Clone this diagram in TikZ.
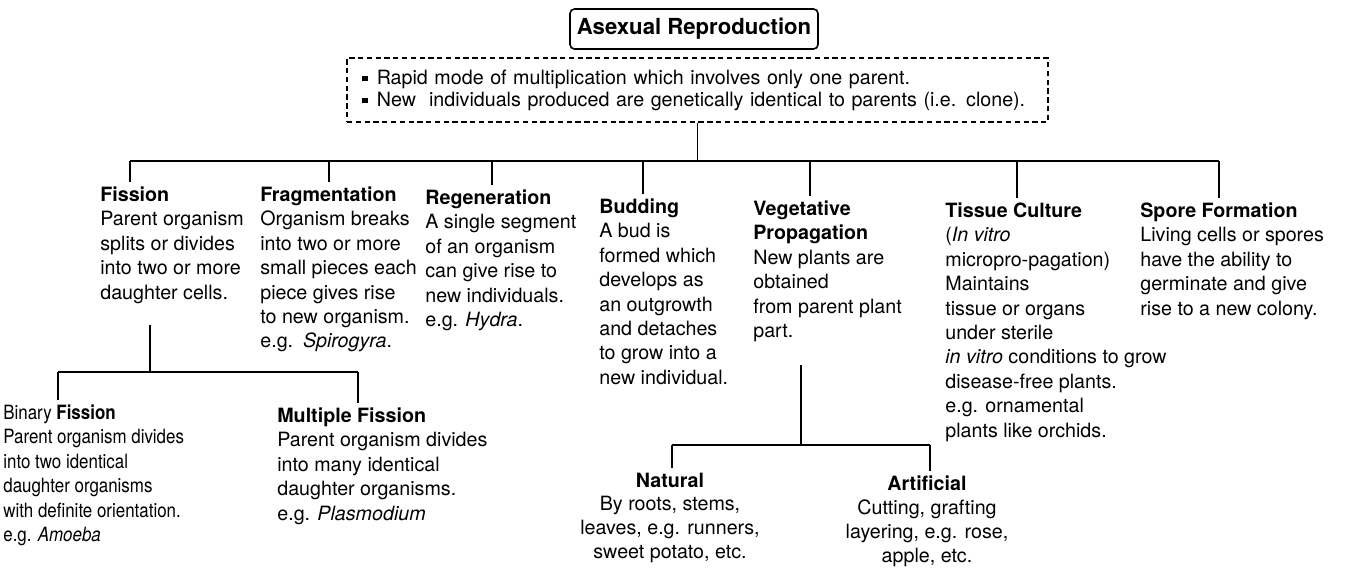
\documentclass[tikz,border=0pt]{standalone}
\usepackage{fontspec}
\setmainfont{TeX Gyre Heros}
\newfontfamily\arnarrow[FakeStretch=0.86]{TeX Gyre Heros}
\usetikzlibrary{positioning,calc}
\tikzset{
  arhead/.style={draw, rounded corners=2.5pt, line width=0.9pt, minimum width=4.96cm,
                 minimum height=0.8cm, inner sep=0pt, font=\fontsize{12.6}{15}\selectfont\bfseries},
  arsum/.style={draw, dash pattern=on 3pt off 2pt, line width=0.7pt, minimum width=14.02cm,
                minimum height=1.28cm, text width=13.42cm, inner xsep=0.3cm, inner ysep=0pt,
                align=left, font=\fontsize{11.2}{12.5}\selectfont},
  arleaf/.style={anchor=north west, align=left, inner xsep=0pt, inner ysep=2.5pt,
                 font=\fontsize{11.2}{13.9}\selectfont},
  arnarrowleaf/.style={arleaf, font=\arnarrow\fontsize{11.2}{13.9}\selectfont},
  arsub/.style={anchor=north, align=center, inner xsep=0pt, inner ysep=2.5pt,
                font=\fontsize{11.2}{13.6}\selectfont},
  arlink/.style={draw=black, line width=0.9pt},
}
\newcommand{\arbullet}{\raisebox{0.25ex}{\rule{0.3em}{0.3em}}\hspace{0.45em}}

\begin{document}
\begin{tikzpicture}[x=0.02cm, y=-0.02cm]
  \useasboundingbox (0,0) rectangle (1349,568);
  \node[arhead] (asexual) at (694,29) {Asexual Reproduction};
  \node[arsum] (sumbox) at (697.5,90) {\arbullet Rapid mode of multiplication which involves only one parent.\\
    \arbullet New~ individuals produced are genetically identical to parents (i.e. clone).};
  \node[arleaf] (fission) at (100,182) {\textbf{Fission}\\Parent organism\\splits or divides\\into two or more\\daughter cells.};
  \node[arleaf] (frag) at (260,182) {\textbf{Fragmentation}\\Organism breaks\\into two or more\\small pieces each\\piece gives rise\\to new organism.\\e.g.\enspace\textit{Spirogyra}.};
  \node[arleaf] (regen) at (425,185) {\textbf{Regeneration}\\A single segment\\of an organism\\can give rise to\\new individuals.\\e.g. \textit{Hydra}.};
  \node[arleaf] (budding) at (599,194) {\textbf{Budding}\\A bud is\\formed which\\develops as\\an outgrowth\\and detaches\\to grow into a\\new individual.};
  \node[arleaf] (veg) at (753,196) {\textbf{Vegetative}\\\textbf{Propagation}\\New plants are\\obtained\\from parent plant\\part.};
  \node[arleaf] (tissue) at (945,198) {\textbf{Tissue Culture}\\(\textit{In vitro}\\micropro-pagation)\\Maintains\\tissue or organs\\under sterile\\\textit{in vitro} conditions to grow\\disease-free plants.\\e.g. ornamental\\plants like orchids.};
  \node[arleaf] (spore) at (1140,198) {\textbf{Spore Formation}\\Living cells or spores\\have the ability to\\germinate and give\\rise to a new colony.};
  \node[arnarrowleaf] (binary) at (3,400) {Binary \textbf{Fission}\\Parent organism divides\\into two identical\\daughter organisms\\with definite orientation.\\e.g. \textit{Amoeba}};
  \node[arleaf] (multiple) at (277,403) {\textbf{Multiple Fission}\\Parent organism divides\\into many identical\\daughter organisms.\\e.g. \textit{Plasmodium}};
  \node[arsub] (natural) at (670,468) {\textbf{Natural}\\By roots, stems,\\leaves, e.g. runners,\\sweet potato, etc.};
  \node[arsub] (artificial) at (927,471) {\textbf{Artificial}\\Cutting, grafting\\layering, e.g. rose,\\apple, etc.};

  \coordinate (barL) at (130,161);
  \coordinate (barR) at (1219,161);
  \draw[arlink] (sumbox.south) -- (sumbox.south |- barL);
  \draw[arlink] (barL) -- (barR);
  \foreach \nd/\xx in {fission/130, frag/329, regen/492, budding/643, veg/810, tissue/1017, spore/1219} {
    \coordinate (tap) at (\xx,161);
    \draw[arlink] (tap) -- (tap |- \nd.north);
  }

  \coordinate (fisStem) at (150,325);
  \coordinate (fisL) at (58,372);
  \coordinate (fisR) at (358,372);
  \draw[arlink] (fisStem) -- (fisStem |- fisL);
  \draw[arlink] (fisL) -- (fisR);
  \draw[arlink] (fisL) -- (fisL |- binary.north);
  \draw[arlink] (fisR) -- (fisR |- multiple.north);

  \coordinate (vegStem) at (801,365);
  \coordinate (vegL) at (672,445);
  \coordinate (vegR) at (930,445);
  \draw[arlink] (vegStem) -- (vegStem |- vegL);
  \draw[arlink] (vegL) -- (vegR);
  \draw[arlink] (vegL) -- (vegL |- natural.north);
  \draw[arlink] (vegR) -- (vegR |- artificial.north);
\end{tikzpicture}
\end{document}
